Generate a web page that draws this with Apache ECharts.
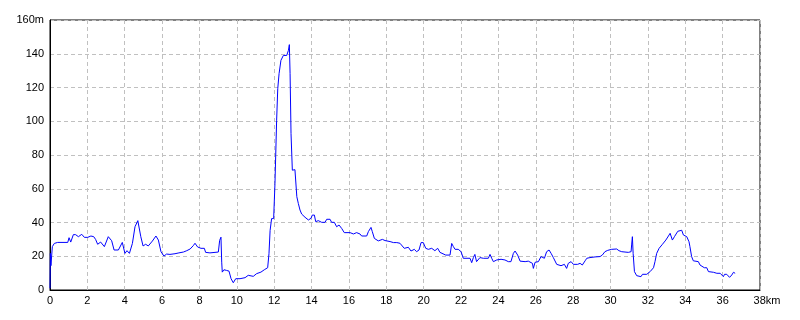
<!DOCTYPE html>
<html>
<head>
<meta charset="utf-8">
<script src="https://cdn.jsdelivr.net/npm/echarts@6/dist/echarts.min.js"></script>
<style>
html,body{margin:0;padding:0;background:#fff;}
#chart{width:800px;height:320px;}
</style>
</head>
<body>
<div id="chart"></div>
<script>
// distance along route (km)
var distanceKm = [
  0, 0.02, 0.05, 0.125, 0.23, 0.41, 0.95, 1.02, 1.11, 1.25,
  1.37, 1.52, 1.7, 1.84, 2.02, 2.19, 2.34, 2.44, 2.55, 2.71,
  2.91, 3.0, 3.12, 3.3, 3.43, 3.66, 3.75, 3.87, 4.01, 4.12,
  4.25, 4.41, 4.55, 4.7, 4.86, 4.98, 5.12, 5.26, 5.48, 5.67,
  5.8, 5.94, 6.1, 6.24, 6.42, 6.69, 6.9, 7.14, 7.32, 7.5,
  7.67, 7.76, 7.9, 8.08, 8.26, 8.33, 8.56, 9.01, 9.08, 9.15,
  9.19, 9.22, 9.31, 9.45, 9.58, 9.69, 9.81, 9.94, 10.17, 10.44,
  10.61, 10.88, 11.06, 11.29, 11.47, 11.65, 11.72, 11.78, 11.86, 11.97,
  12.04, 12.13, 12.19, 12.26, 12.36, 12.49, 12.67, 12.76, 12.81, 12.85,
  12.9, 12.97, 13.11, 13.17, 13.21, 13.29, 13.38, 13.47, 13.56, 13.65,
  13.83, 13.97, 14.04, 14.15, 14.22, 14.36, 14.54, 14.72, 14.81, 14.99,
  15.07, 15.22, 15.34, 15.47, 15.61, 15.75, 16.06, 16.24, 16.41, 16.59,
  16.68, 16.95, 17.04, 17.18, 17.25, 17.36, 17.57, 17.79, 17.93, 18.2,
  18.38, 18.56, 18.73, 18.82, 18.96, 19.18, 19.32, 19.5, 19.62, 19.75,
  19.86, 19.98, 20.11, 20.25, 20.43, 20.6, 20.75, 20.87, 20.96, 21.18,
  21.41, 21.5, 21.59, 21.68, 21.85, 22.0, 22.12, 22.21, 22.48, 22.57,
  22.66, 22.74, 22.83, 23.01, 23.19, 23.28, 23.46, 23.55, 23.64, 23.73,
  23.91, 24.14, 24.35, 24.53, 24.67, 24.8, 24.89, 25.03, 25.16, 25.43,
  25.6, 25.82, 25.87, 25.96, 26.14, 26.28, 26.35, 26.46, 26.58, 26.71,
  26.82, 26.94, 27.12, 27.21, 27.35, 27.53, 27.65, 27.74, 27.89, 28.01,
  28.24, 28.37, 28.49, 28.64, 28.73, 28.9, 29.17, 29.44, 29.56, 29.7,
  29.85, 30.06, 30.33, 30.45, 30.6, 30.95, 31.1, 31.13, 31.17, 31.21,
  31.28, 31.4, 31.63, 31.71, 31.81, 31.94, 32.12, 32.3, 32.38, 32.47,
  32.6, 32.78, 32.96, 33.1, 33.19, 33.31, 33.42, 33.6, 33.67, 33.81,
  33.9, 34.08, 34.2, 34.25, 34.34, 34.43, 34.7, 34.79, 34.88, 35.02,
  35.15, 35.24, 35.33, 35.51, 35.69, 35.87, 35.95, 36.04, 36.1, 36.22,
  36.37, 36.49, 36.58, 36.67
];
// elevation (m)
var elevationM = [
  1, 21.7, 14.4, 25.7, 27.6, 28.2, 28.2, 31, 28.4, 32.8,
  32.8, 31.6, 33, 31.2, 31.2, 32, 31.6, 30, 27.1, 28.4,
  25.7, 25.5, 31.6, 29.2, 23.7, 23.7, 22.7, 28.2, 21.7, 23.3,
  21.7, 27.6, 37.5, 41.1, 31.6, 26.1, 27.1, 26.1, 29, 32,
  29.6, 22.7, 20.1, 21.3, 21.1, 21.5, 22, 22.5, 23.3, 24.3,
  26.3, 27.7, 25.5, 24.7, 24.7, 22.3, 22, 22.5, 29.4, 31.3,
  16.5, 10.6, 12, 11.6, 11.2, 6.7, 4.3, 6.7, 6.7, 7.3,
  8.7, 8.1, 9.7, 10.6, 12, 13.2, 21.5, 35.3, 42.3, 42.3,
  63, 100.6, 119.3, 128.2, 136.1, 139, 139, 142, 145.4, 128.2,
  92.7, 71, 71.3, 72, 55.3, 51.3, 47.4, 45, 45.8, 43.1,
  41.5, 42.5, 44.4, 44.4, 40.5, 41.1, 40.1, 40.1, 41.9, 41.9,
  40.1, 40.1, 37.5, 38.5, 36.5, 34, 34, 33.2, 34, 33.2,
  32, 32, 34.6, 37.1, 34.6, 30.6, 29.1, 30, 29.3, 28.7,
  28.1, 28.1, 27.7, 28.3, 24.7, 25.3, 23.1, 24.1, 22.7, 23.7,
  28.1, 28.1, 24.7, 24.1, 24.7, 23.3, 24.7, 22.3, 21.3, 20.7,
  20.7, 27.6, 25.7, 24.1, 24.1, 22.7, 18.8, 18.2, 18.8, 16.2,
  19.2, 21.1, 16.8, 19.2, 18.8, 19.4, 18.8, 21.1, 18.8, 16.8,
  17.8, 18.2, 17.8, 16.8, 16.8, 21.7, 23.1, 20.7, 17.1, 16.8,
  17.1, 15.8, 12.8, 16.4, 16.8, 19.8, 20.7, 18.8, 22.7, 23.7,
  21.7, 19.2, 15.2, 14.4, 14.4, 15.2, 12.8, 15.8, 16.8, 15.2,
  15.2, 15.8, 14.8, 17.3, 18.8, 19.2, 19.6, 19.8, 20.7, 22.7,
  23.5, 24.1, 24.3, 23.3, 22.7, 22.3, 22.7, 26.7, 31.6, 21.7,
  10.9, 8.5, 7.9, 9.3, 8.3, 9.3, 10.9, 13.2, 16.8, 21.7,
  24.7, 27.1, 29.6, 32, 33.6, 29.6, 31.6, 34.8, 35.8, 35.4,
  32.6, 31.6, 28.6, 25.7, 19.8, 17.3, 16.8, 14.8, 14.4, 13.2,
  13.2, 10.9, 9.9, 10.5, 9.9, 9.9, 9.3, 7.9, 9.3, 9.3,
  7.5, 8.9, 10.5, 9.9
];
var xMax = 38, xStep = 2, xUnit = 'km';
var yMax = 160, yStep = 20, yUnit = 'm';

var seriesData = distanceKm.map(function (d, i) { return [d, elevationM[i]]; });

var chart = echarts.init(document.getElementById('chart'), null, {renderer: 'canvas'});
var font = '"Liberation Sans", Arial, sans-serif';
var split = {show: true, lineStyle: {color: '#c0c0c0', type: [4, 3], width: 1}};
chart.setOption({
  animation: false,
  backgroundColor: '#fff',
  grid: {left: 50, right: 40, top: 20, bottom: 30, show: true, borderColor: '#000', borderWidth: 1, backgroundColor: 'transparent'},
  xAxis: {
    type: 'value', min: 0, max: xMax, interval: xStep,
    axisLine: {show: true, lineStyle: {color: '#000', width: 1}},
    axisTick: {show: false},
    splitLine: split,
    axisLabel: {
      color: '#000', fontSize: 11, fontFamily: font, margin: 5,
      formatter: function (v) { return v === xMax ? '{p|}' + v + xUnit : String(v); },
      rich: {p: {width: 14, fontSize: 11, fontFamily: font}}
    }
  },
  yAxis: {
    type: 'value', min: 0, max: yMax, interval: yStep,
    axisLine: {show: true, lineStyle: {color: '#000', width: 1}},
    axisTick: {show: false},
    splitLine: split,
    axisLabel: {
      color: '#000', fontSize: 11, fontFamily: font, margin: 6,
      formatter: function (v) { return v === yMax ? v + yUnit : String(v); }
    }
  },
  series: [{
    type: 'line', data: seriesData, showSymbol: false, symbol: 'none',
    lineStyle: {color: '#0000ff', width: 1}, silent: true
  }]
});
</script>
</body>
</html>
